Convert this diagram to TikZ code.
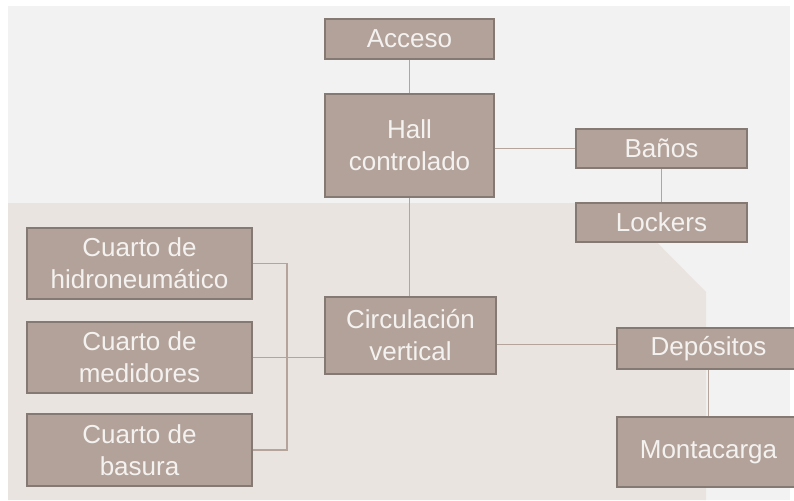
\documentclass[tikz,border=0pt]{standalone}
\usepackage{fontspec}
\setmainfont{Liberation Sans}
\definecolor{boxfill}{HTML}{B3A299}
\definecolor{boxline}{HTML}{857973}
\definecolor{linkcol}{HTML}{B5A49B}
\definecolor{paper}{HTML}{F2F2F2}
\definecolor{zone}{HTML}{E9E4E0}
\definecolor{boxtext}{HTML}{F4F2F0}

\begin{document}
\begin{tikzpicture}
[x=1pt,y=-1pt,%
  room/.style={shape=rectangle,draw=boxline,fill=boxfill,line width=2pt,
    text=boxtext,align=center,inner sep=0pt,
    font=\fontsize{26}{32}\selectfont},%
  link/.style={draw=linkcol,line width=1.2pt}]
\useasboundingbox (0,0) rectangle (794,500);
\clip (0,0) rectangle (794,500);
% fondo
\fill[paper] (8,6) rectangle (790,500);
\fill[zone] (8,203) -- (618,203) -- (706,292) -- (706,500) -- (8,500) -- cycle;
% recintos
\node[room,minimum width=169pt,minimum height=40pt] (acceso) at (409.5,39) {Acceso};
\node[room,minimum width=169pt,minimum height=103pt] (hall) at (409.5,145.5) {Hall\\controlado};
\node[room,minimum width=171pt,minimum height=39pt] (banos) at (661.5,148.5) {Baños};
\node[room,minimum width=171pt,minimum height=39pt] (lockers) at (661.5,222.5) {Lockers};
\node[room,minimum width=225pt,minimum height=71pt] (hidro) at (139.5,263.5) {Cuarto de\\hidroneumático};
\node[room,minimum width=225pt,minimum height=71pt] (medidores) at (139.5,357.5) {Cuarto de\\medidores};
\node[room,minimum width=225pt,minimum height=72pt] (basura) at (139.5,450) {Cuarto de\\basura};
\node[room,minimum width=171pt,minimum height=77pt] (circ) at (410.5,335.5) {Circulación\\vertical};
\node[room,minimum width=183pt,minimum height=41pt] (depositos) at (708.5,348.5) {Depósitos};
\node[room,minimum width=183pt,minimum height=70pt] (montacarga) at (708.5,452) {Montacarga};
% conexiones
\coordinate (bus) at (287,357.5);
\coordinate (dep in) at ([yshift=4pt]depositos.west);
\draw[link] (acceso.south) -- (hall.north);
\draw[link] (hall.south) -- (hall.south |- circ.north);
\draw[link] (hall.east |- banos.west) -- (banos.west);
\draw[link] (banos.south) -- (lockers.north);
\draw[link] (circ.east |- dep in) -- (dep in);
\draw[link] (depositos.south) -- (montacarga.north);
\draw[link] (hidro.east) -| (bus) |- (basura.east);
\draw[link] (medidores.east) -- (circ.west |- medidores.east);
\end{tikzpicture}
\end{document}
